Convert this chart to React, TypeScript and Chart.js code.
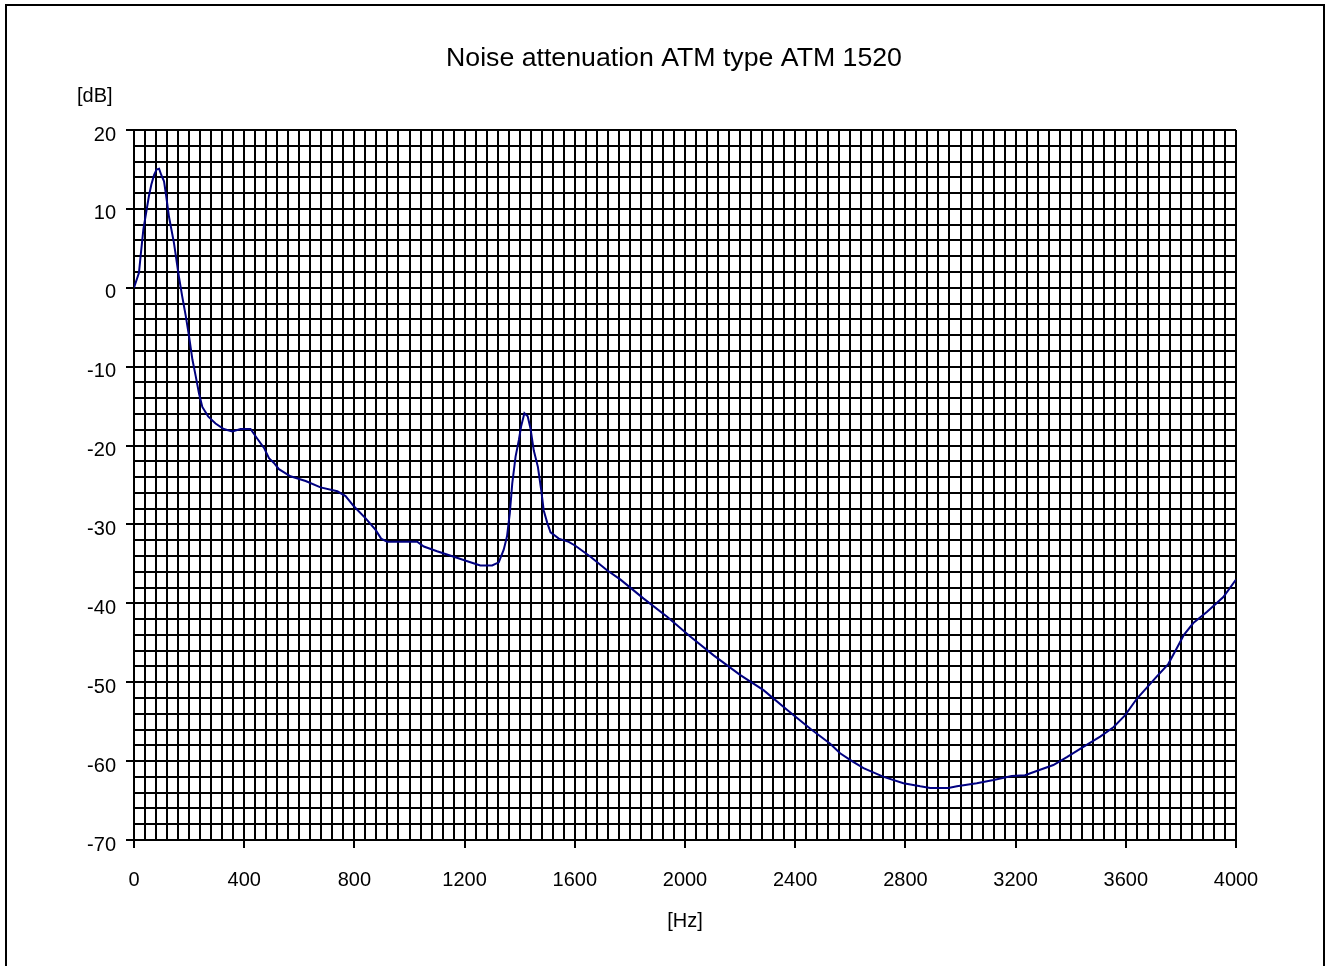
import React, { useEffect, useRef } from "react";
import { Chart, registerables } from "chart.js";

Chart.register(...registerables);

const chartTitle = "Noise attenuation ATM type ATM 1520";
const yUnit = "[dB]";
const xUnit = "[Hz]";

const freqHz = [
  0, 18, 24, 34, 46, 54, 63, 73, 82, 91, 99, 109, 117, 127, 145, 163, 175, 188, 200, 212,
  224, 236, 248, 269, 296, 326, 357, 387, 423, 447, 472, 490, 508, 526, 568, 623, 677, 738,
  768, 798, 840, 877, 897, 919, 967, 1028, 1052, 1100, 1161, 1221, 1257, 1300, 1324, 1342,
  1354, 1364, 1373, 1385, 1397, 1405, 1417, 1429, 1439, 1451, 1466, 1478, 1487, 1500, 1512,
  1542, 1578, 1602, 1657, 1717, 1766, 1850, 1935, 2019, 2104, 2201, 2285, 2370, 2455, 2527,
  2563, 2606, 2648, 2721, 2793, 2854, 2890, 2956, 2987, 3059, 3120, 3186, 3234, 3289, 3337,
  3386, 3446, 3507, 3555, 3597, 3640, 3712, 3754, 3785, 3811, 3845, 3894, 3954, 4000,
];

const attenuationDb = [
  0, 1.9, 4.0, 7.4, 9.9, 11.6, 13.1, 14.3, 15.0, 15.1, 14.3, 13.5, 11.6, 9.0, 5.7, 1.4, -1.1,
  -3.6, -6.2, -9.1, -11.2, -13.4, -15.1, -16.3, -17.2, -17.9, -18.2, -17.9, -17.9, -19.1,
  -20.3, -21.6, -22.2, -23.0, -23.9, -24.5, -25.3, -25.8, -26.4, -27.7, -29.2, -30.7, -31.8,
  -32.2, -32.2, -32.2, -32.8, -33.4, -34.1, -34.8, -35.2, -35.2, -34.8, -33.2, -31.5, -28.6,
  -24.8, -21.4, -19.3, -17.6, -15.9, -16.3, -17.8, -20.6, -22.7, -25.6, -28.2, -29.8, -31.0,
  -31.8, -32.2, -32.7, -34.1, -35.8, -37.0, -39.4, -41.7, -44.2, -46.6, -49.1, -51.0, -53.5,
  -55.9, -57.8, -59.0, -60.0, -60.9, -62.0, -62.8, -63.2, -63.4, -63.4, -63.2, -62.8, -62.4,
  -61.9, -61.8, -61.1, -60.5, -59.5, -58.2, -56.9, -55.7, -54.2, -52.1, -49.3, -47.7, -45.7,
  -44.0, -42.5, -41.1, -39.2, -37.0,
];

const xMajorTicks = [0, 400, 800, 1200, 1600, 2000, 2400, 2800, 3200, 3600, 4000];
const yMajorTicks = [20, 10, 0, -10, -20, -30, -40, -50, -60, -70];

const FONT = "'Liberation Sans', Arial, Helvetica, sans-serif";

export default function App() {
  const ref = useRef<HTMLCanvasElement>(null);

  useEffect(() => {
    document.body.style.margin = "0";
    const textPlugin = {
      id: "extraTexts",
      afterDraw(chart: any) {
        const ctx = chart.ctx;
        ctx.save();
        ctx.fillStyle = "#000";
        ctx.textBaseline = "middle";
        ctx.textAlign = "center";
        ctx.font = `26.7px ${FONT}`;
        ctx.fillText(chartTitle, 674, 59);
        ctx.font = `20px ${FONT}`;
        ctx.textAlign = "left";
        ctx.fillText(yUnit, 77, 96);
        ctx.restore();
      },
    };

    const chart = new Chart(ref.current as HTMLCanvasElement, {
      type: "line",
      data: {
        datasets: [
          {
            data: freqHz.map((f, i) => ({ x: f, y: attenuationDb[i] })),
            borderColor: "#000080",
            borderWidth: 2,
            pointRadius: 0,
            tension: 0,
            fill: false,
          },
        ],
      },
      options: {
        animation: false,
        responsive: false,
        devicePixelRatio: 1,
        layout: { padding: { left: 0, right: 96, top: 130, bottom: 0 } },
        plugins: {
          legend: { display: false },
          tooltip: { enabled: false },
          title: { display: false },
        },
        scales: {
          x: {
            type: "linear",
            min: 0,
            max: 4000,
            ticks: {
              stepSize: 40,
              autoSkip: false,
              maxRotation: 0,
              padding: 20,
              color: "#000",
              font: { size: 20, family: FONT },
              callback: (v: any) => (xMajorTicks.includes(Number(v)) ? String(v) : ""),
            },
            grid: {
              color: "#000",
              lineWidth: 2,
              tickLength: 8,
              tickWidth: 2,
              tickColor: (c: any) =>
                c.tick && xMajorTicks.includes(c.tick.value) ? "#000" : "rgba(0,0,0,0)",
            },
            border: { color: "#000", width: 2 },
            title: {
              display: true,
              text: xUnit,
              color: "#000",
              font: { size: 20, family: FONT },
              padding: { top: 0, bottom: 33 },
            },
            afterFit: (s: any) => {
              s.height = 126;
            },
          },
          y: {
            type: "linear",
            min: -70,
            max: 20,
            ticks: {
              stepSize: 2,
              autoSkip: false,
              padding: 10,
              labelOffset: 5,
              color: "#000",
              font: { size: 20, family: FONT },
              callback: (v: any) => (yMajorTicks.includes(Number(v)) ? String(v) : ""),
            },
            grid: {
              color: "#000",
              lineWidth: 2,
              tickLength: 8,
              tickWidth: 2,
              tickColor: (c: any) =>
                c.tick && yMajorTicks.includes(c.tick.value) ? "#000" : "rgba(0,0,0,0)",
            },
            border: { color: "#000", width: 2 },
            afterFit: (s: any) => {
              s.width = 134;
            },
          },
        },
      },
      plugins: [textPlugin],
    } as any);

    return () => chart.destroy();
  }, []);

  return (
    <div style={{ position: "relative", width: 1332, height: 966, overflow: "hidden", background: "#fff" }}>
      <canvas ref={ref} width={1332} height={966} style={{ display: "block" }} />
      <div
        style={{
          position: "absolute",
          left: 5,
          top: 4,
          width: 1320,
          height: 1100,
          border: "2px solid #000",
          boxSizing: "border-box",
          pointerEvents: "none",
        }}
      />
    </div>
  );
}
